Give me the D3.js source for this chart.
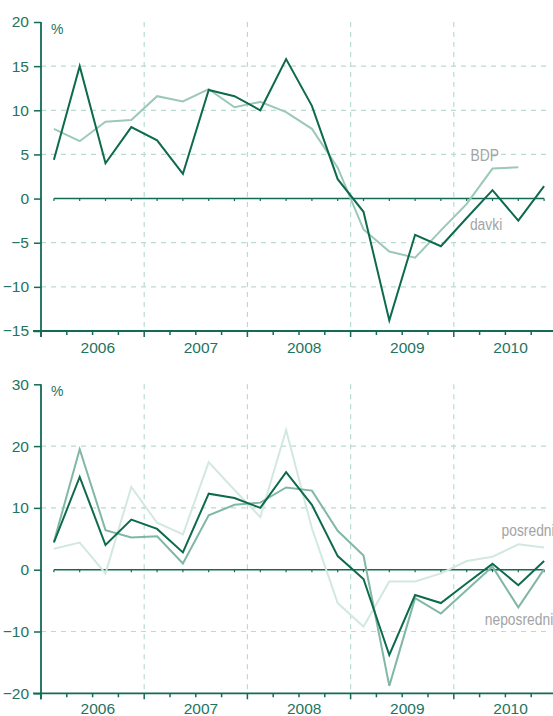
<!DOCTYPE html>
<html><head><meta charset="utf-8">
<script src="https://cdn.jsdelivr.net/npm/d3@7"></script>
<style>
body{margin:0;background:#fff;}
svg{display:block;}
</style></head>
<body>
<svg id="c" width="553" height="716"></svg>
<script>
// Quarters 2006Q1 .. 2010Q4
const quarters = ["2006Q1","2006Q2","2006Q3","2006Q4","2007Q1","2007Q2","2007Q3","2007Q4",
  "2008Q1","2008Q2","2008Q3","2008Q4","2009Q1","2009Q2","2009Q3","2009Q4",
  "2010Q1","2010Q2","2010Q3","2010Q4"];
const years = ["2006","2007","2008","2009","2010"];
const davki = [4.4,15.0,4.0,8.1,6.6,2.8,12.3,11.6,10.0,15.8,10.5,2.2,-1.5,-13.8,-4.1,-5.4,-2.2,0.95,-2.5,1.4];
const bdp = [7.9,6.5,8.7,8.9,11.6,11.0,12.4,10.35,10.95,9.8,7.9,3.5,-3.5,-6.0,-6.7,-3.6,-0.6,3.4,3.55];
const neposredni = [4.5,19.5,6.4,5.2,5.4,1.0,8.8,10.5,10.85,13.3,12.8,6.3,2.3,-18.8,-4.6,-7.1,-3.3,0.5,-6.1,0.1];
const posredni = [3.4,4.4,-0.6,13.4,7.6,5.7,17.4,12.9,8.5,22.6,6.7,-5.4,-9.2,-1.9,-1.9,-0.6,1.4,2.1,4.1,3.6];
const topTicks = [-15,-10,-5,0,5,10,15,20];
const bottomTicks = [-20,-10,0,10,20,30];

const C = {
  axis:"#136b54", text:"#1e7460", grid:"#b9dbd0",
  dark:"#0d6a4e", bdp:"#9cc8b8", nepos:"#80b8a5", pos:"#d3e8df", label:"#a4a4a4"
};
const svg = d3.select("#c");
const x = d3.scaleLinear().domain([0, quarters.length]).range([41, 41 + 20*25.8]);

function panel(cfg){
  const y = d3.scaleLinear().domain(cfg.domain).range(cfg.range);
  const g = svg.append("g");
  const y0 = cfg.range[0], yTop = cfg.range[1];
  // horizontal grid
  g.selectAll(".hg").data(cfg.ticks.filter(t => t !== 0 && t !== cfg.domain[0] && t !== cfg.domain[1]))
    .join("line").attr("x1", 41).attr("x2", 548)
    .attr("y1", d => y(d)).attr("y2", d => y(d))
    .attr("stroke", C.grid).attr("stroke-width", 1.2).attr("stroke-dasharray", "5,5");
  // vertical grid at year boundaries
  g.selectAll(".vg").data([4,8,12,16]).join("line")
    .attr("x1", d => x(d)).attr("x2", d => x(d)).attr("y1", yTop).attr("y2", y0)
    .attr("stroke", C.grid).attr("stroke-width", 1.2).attr("stroke-dasharray", "5,5");
  // y axis
  const ya = d3.axisLeft(y).tickValues(cfg.ticks).tickSize(7).tickPadding(5);
  const yg = g.append("g").attr("transform", "translate(41,0)").call(ya);
  yg.select(".domain").remove();
  yg.selectAll(".tick line").attr("stroke", C.axis).attr("stroke-width", 1.5);
  yg.selectAll("text").attr("fill", C.text).style("font", "15.5px 'Liberation Sans', Arial, sans-serif");
  g.append("line").attr("x1", 41).attr("x2", 41).attr("y1", yTop).attr("y2", y0 + 6)
    .attr("stroke", C.axis).attr("stroke-width", 1.8);
  // x axis
  g.append("line").attr("x1", 33).attr("x2", 553).attr("y1", y0).attr("y2", y0)
    .attr("stroke", C.axis).attr("stroke-width", 1.8);
  const qt = d3.range(0, quarters.length + 1);
  g.selectAll(".xt").data(qt).join("line")
    .attr("x1", d => x(d)).attr("x2", d => x(d))
    .attr("y1", y0).attr("y2", d => y0 + (d % 4 === 0 ? 6 : 4))
    .attr("stroke", C.axis).attr("stroke-width", 1.5);
  g.selectAll(".yl").data(years).join("text")
    .attr("x", (d,i) => x(i*4 + 2.2)).attr("y", y0 + cfg.yearOffset)
    .attr("text-anchor", "middle").attr("fill", C.text)
    .style("font", "15.5px 'Liberation Sans', Arial, sans-serif").text(d => d);
  g.append("text").attr("x", 51).attr("y", yTop + 12).attr("fill", C.text)
    .style("font", "14px 'Liberation Sans', Arial, sans-serif").text("%");
  // zero line with ticks at data points
  g.append("line").attr("x1", x(0.5)).attr("x2", x(quarters.length - 0.5))
    .attr("y1", y(0)).attr("y2", y(0)).attr("stroke", C.axis).attr("stroke-width", 1.6);
  g.selectAll(".zt").data(d3.range(quarters.length)).join("line")
    .attr("x1", d => x(d + 0.5)).attr("x2", d => x(d + 0.5))
    .attr("y1", y(0)).attr("y2", y(0) + 2.5).attr("stroke", C.axis).attr("stroke-width", 1.2);
  // series
  const line = d3.line().x((d,i) => x(i + 0.5)).y(d => y(d));
  cfg.series.forEach(s => {
    g.append("path").attr("d", line(s.values)).attr("fill", "none")
      .attr("stroke", s.color).attr("stroke-width", s.width).attr("stroke-linejoin", "miter");
  });
  cfg.labels.forEach(l => {
    g.append("text")
      .attr("transform", `translate(${x(l.q)},${y(l.v)}) scale(0.84,1)`)
      .attr("text-anchor", l.anchor)
      .attr("fill", C.label).style("font", "16.5px 'Liberation Sans', Arial, sans-serif")
      .text(l.text);
  });
}

panel({
  domain: [-15, 20], range: [331, 22], ticks: topTicks, yearOffset: 21.5,
  series: [
    {values: bdp, color: C.bdp, width: 2},
    {values: davki, color: C.dark, width: 2}
  ],
  labels: [
    {text: "BDP", q: 17.2, v: 4.3, anchor: "middle"},
    {text: "davki", q: 17.25, v: -3.6, anchor: "middle"}
  ]
});
panel({
  domain: [-20, 30], range: [693.3, 384.3], ticks: bottomTicks, yearOffset: 20.5,
  series: [
    {values: posredni, color: C.pos, width: 2},
    {values: neposredni, color: C.nepos, width: 2},
    {values: davki, color: C.dark, width: 2}
  ],
  labels: [
    {text: "posredni", q: 17.85, v: 5.4, anchor: "start"},
    {text: "neposredni", q: 17.2, v: -9.0, anchor: "start"}
  ]
});
</script>
</body></html>
